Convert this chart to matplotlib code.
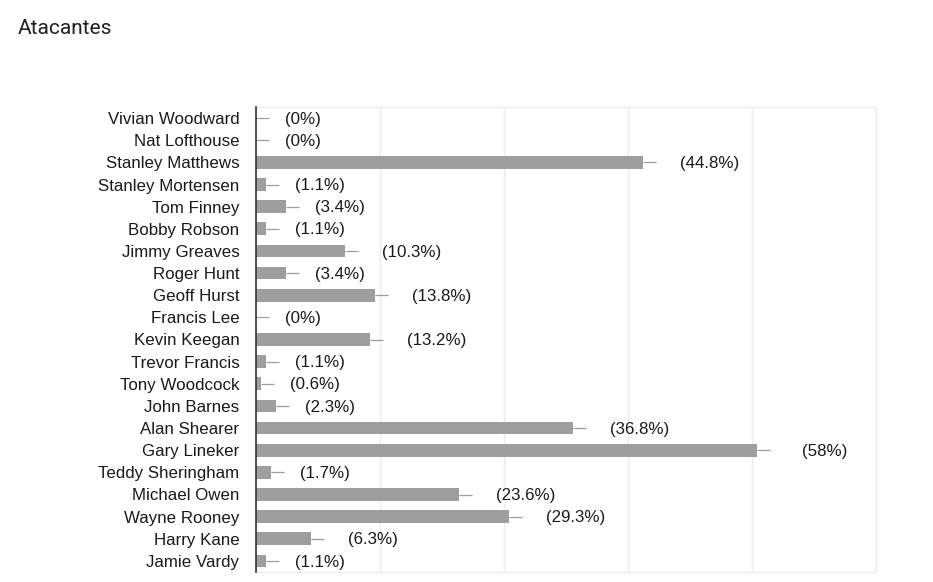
import matplotlib
matplotlib.use("Agg")
import matplotlib.pyplot as plt

players = ["Vivian Woodward", "Nat Lofthouse", "Stanley Matthews", "Stanley Mortensen",
           "Tom Finney", "Bobby Robson", "Jimmy Greaves", "Roger Hunt", "Geoff Hurst",
           "Francis Lee", "Kevin Keegan", "Trevor Francis", "Tony Woodcock", "John Barnes",
           "Alan Shearer", "Gary Lineker", "Teddy Sheringham", "Michael Owen",
           "Wayne Rooney", "Harry Kane", "Jamie Vardy"]
counts = [0, 0, 78, 2, 6, 2, 18, 6, 24, 0, 23, 2, 1, 4, 64, 101, 3, 41, 51, 11, 2]
pct_labels = ["0%", "0%", "44.8%", "1.1%", "3.4%", "1.1%", "10.3%", "3.4%", "13.8%",
              "0%", "13.2%", "1.1%", "0.6%", "2.3%", "36.8%", "58%", "1.7%", "23.6%",
              "29.3%", "6.3%", "1.1%"]
xticks = [0, 25, 50, 75, 100, 125]

W, H = 933, 582
fig = plt.figure(figsize=(W / 100, H / 100), dpi=100)
ax = fig.add_axes([256 / W, 1 - 572 / H, (876 - 256) / W, (572 - 107) / H])

font = ["Liberation Sans", "DejaVu Sans"]
ypos = list(range(len(players)))
ax.barh(ypos, counts, height=0.57, color="#9e9e9e", zorder=3)
ax.set_xlim(0, 125)
ax.set_ylim(len(players) - 0.5, -0.5)
ax.set_xticks(xticks)
ax.set_xticklabels([])
ax.tick_params(axis="x", length=0)
ax.grid(axis="x", color="#ebebeb", linewidth=1, zorder=0)
ax.set_yticks(ypos)
ax.set_yticklabels(players, fontsize=12.2, family=font, color="#1a1a1a")
ax.tick_params(axis="y", length=0, pad=12)

for side in ["top", "right", "bottom"]:
    ax.spines[side].set_color("#ebebeb")
ax.spines["left"].set_color("#333333")
ax.spines["left"].set_linewidth(1.2)
ax.spines["left"].set_zorder(5)

px = 125 / (876 - 256)  # data units per pixel
for y, c, lab in zip(ypos, counts, pct_labels):
    ax.plot([c, c + 13 * px], [y, y], color="#9e9e9e", linewidth=0.9, zorder=3,
            solid_capstyle="butt")
    hidden = str(c)
    offset = 21 + 8 * len(hidden)
    ax.text(c + offset * px, y + 0.05, "(" + lab + ")", va="center", ha="left",
            fontsize=12.2, family=font, color="#1a1a1a")

fig.text(18 / W, 1 - 28 / H, "Atacantes", fontsize=15, family=["Roboto", "DejaVu Sans"],
         color="#202124", va="center", ha="left")

fig.savefig("out.png", dpi=100)
